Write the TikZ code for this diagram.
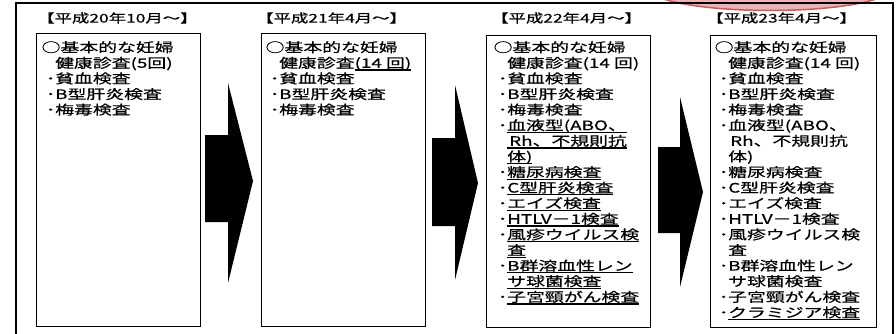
\documentclass[tikz,border=0pt]{standalone}
\usepackage{fontspec}
\newfontfamily\jp[FakeStretch=1.45,FakeBold=0.6]{Noto Sans CJK JP}
\definecolor{pinkfill}{HTML}{E8B4B8}
\definecolor{pinkrim}{HTML}{C0605F}
\newsavebox\julbox
\newcommand\jul[1]{\sbox\julbox{#1}\rlap{\rule[-2.8pt]{\wd\julbox}{1.1pt}}\usebox\julbox}
\newcommand\jind{\hspace*{16pt}}
\newcommand\jbul{\hspace*{7pt}\makebox[9pt][c]{･}}
\newcommand\jcirc{\hspace*{2.5pt}○}
\begin{document}
\begin{tikzpicture}[x=1pt,y=-1pt,
  box/.style={draw=black, line width=1.3pt, anchor=north west, inner sep=0pt, minimum width=164pt, minimum height=293pt},
  hdr/.style={anchor=west, inner sep=0pt, font=\jp\fontsize{12}{13}\selectfont},
  body/.style={anchor=north west, inner sep=0pt, align=left, font=\jp\fontsize{13}{15.6}\selectfont}]
\useasboundingbox (0,0) rectangle (896,334);
\fill[white] (0,0) rectangle (896,334);
% pink shape at top right (cropped)
\filldraw[fill=pinkfill, draw=pinkrim, line width=1.5pt] (652,-6) .. controls (690,16) and (850,16) .. (888,-6) -- cycle;
% outer frame
\draw[line width=1.2pt] (16,340) -- (16,3) -- (893,3) -- (893,340);
% panel boxes
\node[box] (p1) at (36,33) {};
\node[box] (p2) at (261,33) {};
\node[box, minimum height=292pt] (p3) at (486,35) {};
\node[box, minimum width=166pt, minimum height=292pt] (p4) at (710,35) {};
% headers
\node[hdr] (h1) at (37,18) {【平成20年10月～】};
\node[hdr] (h2) at (256,18) {【平成21年4月～】};
\node[hdr] (h3) at (491,18) {【平成22年4月～】};
\node[hdr] (h4) at (706,18) {【平成23年4月～】};
% arrows
\fill (205,135) -- (228,135) -- (228,83) -- (253,181) -- (228,283) -- (228,222) -- (205,222) -- cycle;
\fill (432,138) -- (455,138) -- (455,85) -- (478,183) -- (455,280) -- (455,226) -- (432,226) -- cycle;
\fill (658,147) -- (680,147) -- (680,97) -- (703,192) -- (680,287) -- (680,233) -- (658,233) -- cycle;
% texts
\node[body] (t1) at (39,41) {\jcirc 基本的な妊婦\\
\jind 健康診査(5回)\\
\jbul 貧血検査\\
\jbul B型肝炎検査\\
\jbul 梅毒検査};
\node[body] (t2) at (263,41) {\jcirc 基本的な妊婦\\
\jind 健康診査\jul{(14 回)}\\
\jbul 貧血検査\\
\jbul B型肝炎検査\\
\jbul 梅毒検査};
\node[body] (t3) at (491,41) {\jcirc 基本的な妊婦\\
\jind 健康診査(14 回)\\
\jbul 貧血検査\\
\jbul B型肝炎検査\\
\jbul 梅毒検査\\
\jbul\jul{血液型(ABO、}\\
\jind\jul{\hspace{2pt}Rh、不規則抗}\\
\jind\jul{体)}\\
\jbul\jul{糖尿病検査}\\
\jbul\jul{C型肝炎検査}\\
\jbul\jul{エイズ検査}\\
\jbul\jul{HTLV－1検査}\\
\jbul\jul{風疹ウイルス検}\\
\jind\jul{査}\\
\jbul\jul{B群溶血性レン}\\
\jind\jul{サ球菌検査}\\
\jbul\jul{子宮頸がん検査}};
\node[body] (t4) at (712,41) {\jcirc 基本的な妊婦\\
\jind 健康診査(14 回)\\
\jbul 貧血検査\\
\jbul B型肝炎検査\\
\jbul 梅毒検査\\
\jbul 血液型(ABO、\\
\jind\hspace*{2pt}Rh、不規則抗\\
\jind 体)\\
\jbul 糖尿病検査\\
\jbul C型肝炎検査\\
\jbul エイズ検査\\
\jbul HTLV－1検査\\
\jbul 風疹ウイルス検\\
\jind 査\\
\jbul B群溶血性レン\\
\jind サ球菌検査\\
\jbul 子宮頸がん検査\\
\jbul\jul{クラミジア検査}};
\end{tikzpicture}
\end{document}
